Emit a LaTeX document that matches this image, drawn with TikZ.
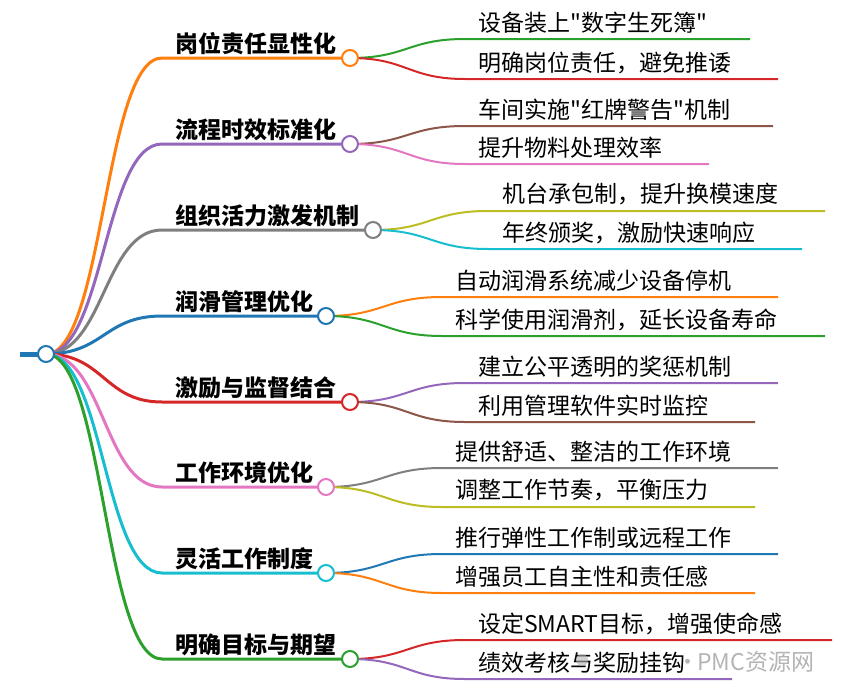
\documentclass[tikz,border=0pt]{standalone}
\usepackage{fontspec}
\setmainfont{Noto Sans CJK SC}[Ligatures=TeXOff]
\newcommand\dq{\char34\relax}
\definecolor{cO}{HTML}{FF7F0E}
\definecolor{cP}{HTML}{9467BD}
\definecolor{cGy}{HTML}{7F7F7F}
\definecolor{cB}{HTML}{1F77B4}
\definecolor{cR}{HTML}{D62728}
\definecolor{cPk}{HTML}{E377C2}
\definecolor{cC}{HTML}{17BECF}
\definecolor{cG}{HTML}{2CA02C}
\definecolor{cBr}{HTML}{8C564B}
\definecolor{cOl}{HTML}{BCBD22}
\definecolor{wm}{HTML}{B4B4B4}
\newcommand\mmHead[5]{%
  \coordinate (h#1) at (162,#2);
  \coordinate (c#1) at (#3,#2);
  \draw[mainlink,#4] (r.center) .. controls +(58,0) and +(-58,0) .. (h#1) -- (c#1);
  \node[headtext] (t#1) at (175,#2-14) {#5};
}
\newcommand\mmLeaf[8]{%
  \coordinate (s#2) at (#4,#3);
  \coordinate (e#2) at (#5,#3);
  \draw[sublink,#7] (c#1) .. controls +(57,0) and +(-57,0) .. (s#2) -- (e#2);
  \node[leaftext] (l#2) at (#6,#3-16.5) {#8};
}
\begin{document}
\begin{tikzpicture}[x=1pt,y=-1pt,
  mainlink/.style={line width=3pt},
  sublink/.style={line width=2pt},
  dotnode/.style={circle,fill=white,line width=2pt,minimum size=16pt,inner sep=0pt},
  headtext/.style={anchor=west,inner sep=0pt,font=\fontsize{23}{23}\selectfont\bfseries},
  leaftext/.style={anchor=west,inner sep=0pt,font=\fontsize{23}{23}\selectfont}]
\useasboundingbox (0,0) rectangle (851,696);
\coordinate (r0) at (20,354);
\coordinate (r) at (46,354);
\draw[cB,line width=5pt] (r0) -- (r);

\mmHead{1}{58}{350}{cO}{岗位责任显性化}
\mmHead{2}{144}{350}{cP}{流程时效标准化}
\mmHead{3}{230}{373}{cGy}{组织活力激发机制}
\mmHead{4}{316}{326}{cB}{润滑管理优化}
\mmHead{5}{402}{350}{cR}{激励与监督结合}
\mmHead{6}{487}{326}{cPk}{工作环境优化}
\mmHead{7}{573}{326}{cC}{灵活工作制度}
\mmHead{8}{659}{350}{cG}{明确目标与期望}

\mmLeaf{1}{1a}{39}{465}{750}{478}{cG}{设备装上\dq 数字生死簿\dq}
\mmLeaf{1}{1b}{79}{465}{778}{478}{cR}{明确岗位责任，避免推诿}
\mmLeaf{2}{2a}{126}{465}{773}{478}{cBr}{车间实施\dq 红牌警告\dq 机制}
\mmLeaf{2}{2b}{164}{465}{709}{478}{cPk}{提升物料处理效率}
\mmLeaf{3}{3a}{211}{488}{825}{502}{cOl}{机台承包制，提升换模速度}
\mmLeaf{3}{3b}{249}{488}{802}{502}{cC}{年终颁奖，激励快速响应}
\mmLeaf{4}{4a}{297}{442}{778}{455}{cO}{自动润滑系统减少设备停机}
\mmLeaf{4}{4b}{336}{442}{825}{455}{cG}{科学使用润滑剂，延长设备寿命}
\mmLeaf{5}{5a}{383}{465}{778}{478}{cP}{建立公平透明的奖惩机制}
\mmLeaf{5}{5b}{422}{465}{755}{478}{cBr}{利用管理软件实时监控}
\mmLeaf{6}{6a}{468}{442}{778}{455}{cGy}{提供舒适、整洁的工作环境}
\mmLeaf{6}{6b}{507}{442}{755}{455}{cOl}{调整工作节奏，平衡压力}
\mmLeaf{7}{7a}{554}{442}{778}{455}{cB}{推行弹性工作制或远程工作}
\mmLeaf{7}{7b}{593}{442}{755}{455}{cO}{增强员工自主性和责任感}
\mmLeaf{8}{8a}{640}{465}{832}{478}{cR}{设定SMART目标，增强使命感}
\mmLeaf{8}{8b}{679}{465}{732}{478}{cP}{绩效考核与奖励挂钩}

\node[dotnode,draw=cB] (rn) at (r) {};
\foreach \i/\col in {1/cO,2/cP,3/cGy,4/cB,5/cR,6/cPk,7/cC,8/cG}
  \node[dotnode,draw=\col] (n\i) at (c\i) {};

\node[circle,fill=wm,opacity=0.6,minimum size=12pt,inner sep=0pt] (logo) at (582,660) {};
\node[anchor=west,inner sep=0pt,text=wm,font=\fontsize{23}{23}\selectfont] (mark) at (676,662) {·\kern-2pt PMC资源网};
\end{tikzpicture}
\end{document}
